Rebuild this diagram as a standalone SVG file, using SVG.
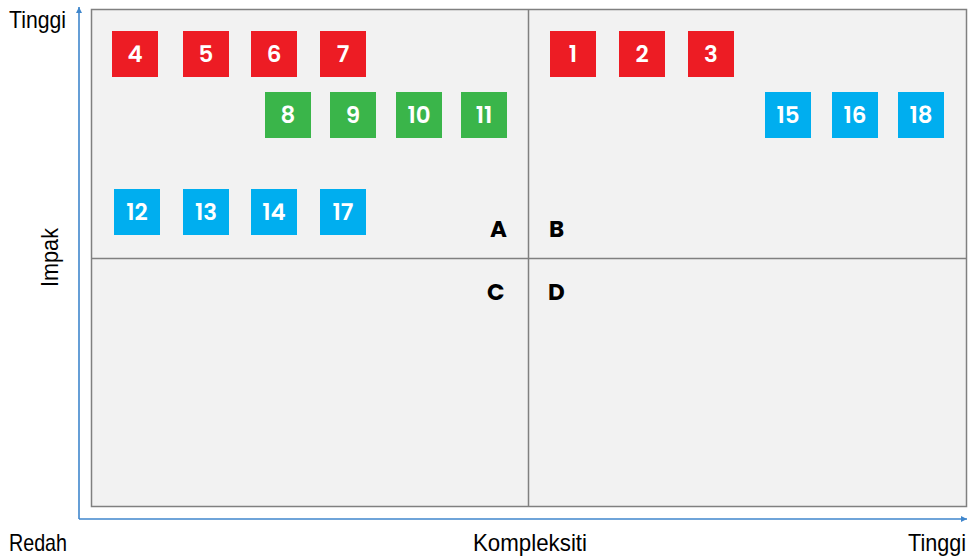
<svg xmlns="http://www.w3.org/2000/svg" width="974" height="558" viewBox="0 0 974 558">
<defs>
<style>
.bx{stroke:none}
.r{fill:#ED1C24}.g{fill:#3AB54A}.b{fill:#00AEEF}
.n{font-family:Poppins,Inter,"Open Sans","Liberation Sans",sans-serif;font-weight:600;font-size:23px;fill:#fff;text-anchor:middle}
.q{font-family:Poppins,Inter,"Open Sans","Liberation Sans",sans-serif;font-weight:700;font-size:23px;fill:#000}
.ax{font-family:"Liberation Sans Narrow","Liberation Sans",Arial,sans-serif;font-size:24px;fill:#000}
.axl{stroke:#3F86CC;stroke-width:1.6;fill:none}
</style>
<marker id="ah" viewBox="0 0 10 10" refX="10" refY="5" markerWidth="6" markerHeight="6" markerUnits="userSpaceOnUse" orient="auto"><path d="M0,0L10,5L0,10z" fill="#3F86CC"/></marker>
</defs>
<g id="grid">
<rect x="91.5" y="9.5" width="875" height="497" fill="#F2F2F2" stroke="#808080" stroke-width="1.5"/>
<line x1="528.5" y1="9.5" x2="528.5" y2="506.5" stroke="#808080" stroke-width="1.5"/>
<line x1="91.5" y1="258.5" x2="966.5" y2="258.5" stroke="#808080" stroke-width="1.5"/>
</g>
<g id="connectors">
<path class="axl" d="M79,519 L79,7" marker-end="url(#ah)"/>
<path class="axl" d="M79,519 L967,519" marker-end="url(#ah)"/>
</g>
<g id="labels">
<text class="ax" x="9" y="28" textLength="57" lengthAdjust="spacingAndGlyphs">Tinggi</text>
<text class="ax" x="9" y="551" textLength="58" lengthAdjust="spacingAndGlyphs">Redah</text>
<text class="ax" x="473" y="551" textLength="114" lengthAdjust="spacingAndGlyphs">Kompleksiti</text>
<text class="ax" x="908" y="551" textLength="58" lengthAdjust="spacingAndGlyphs">Tinggi</text>
<text class="ax" transform="translate(58,287) rotate(-90)" x="0" y="0" textLength="59" lengthAdjust="spacingAndGlyphs">Impak</text>
<text class="q" x="490" y="237">A</text>
<text class="q" x="549" y="237">B</text>
<text class="q" x="487" y="300">C</text>
<text class="q" x="548" y="300">D</text>
</g>
<g id="n4"><rect class="bx r" x="112" y="31" width="46" height="46"/><text class="n" x="135" y="62">4</text></g>
<g id="n5"><rect class="bx r" x="183" y="31" width="46" height="46"/><text class="n" x="206" y="62">5</text></g>
<g id="n6"><rect class="bx r" x="251" y="31" width="46" height="46"/><text class="n" x="274" y="62">6</text></g>
<g id="n7"><rect class="bx r" x="320" y="31" width="46" height="46"/><text class="n" x="343" y="62">7</text></g>
<g id="n1"><rect class="bx r" x="550" y="31" width="46" height="46"/><text class="n" x="573" y="62">1</text></g>
<g id="n2"><rect class="bx r" x="619" y="31" width="46" height="46"/><text class="n" x="642" y="62">2</text></g>
<g id="n3"><rect class="bx r" x="688" y="31" width="46" height="46"/><text class="n" x="711" y="62">3</text></g>
<g id="n8"><rect class="bx g" x="265" y="92" width="46" height="46"/><text class="n" x="288" y="123">8</text></g>
<g id="n9"><rect class="bx g" x="330" y="92" width="46" height="46"/><text class="n" x="353" y="123">9</text></g>
<g id="n10"><rect class="bx g" x="396" y="92" width="46" height="46"/><text class="n" x="419" y="123">10</text></g>
<g id="n11"><rect class="bx g" x="461" y="92" width="46" height="46"/><text class="n" x="484" y="123">11</text></g>
<g id="n15"><rect class="bx b" x="765" y="92" width="46" height="46"/><text class="n" x="788" y="123">15</text></g>
<g id="n16"><rect class="bx b" x="832" y="92" width="46" height="46"/><text class="n" x="855" y="123">16</text></g>
<g id="n18"><rect class="bx b" x="898" y="92" width="46" height="46"/><text class="n" x="921" y="123">18</text></g>
<g id="n12"><rect class="bx b" x="114" y="189" width="46" height="46"/><text class="n" x="137" y="220">12</text></g>
<g id="n13"><rect class="bx b" x="183" y="189" width="46" height="46"/><text class="n" x="206" y="220">13</text></g>
<g id="n14"><rect class="bx b" x="251" y="189" width="46" height="46"/><text class="n" x="274" y="220">14</text></g>
<g id="n17"><rect class="bx b" x="320" y="189" width="46" height="46"/><text class="n" x="343" y="220">17</text></g>
</svg>
